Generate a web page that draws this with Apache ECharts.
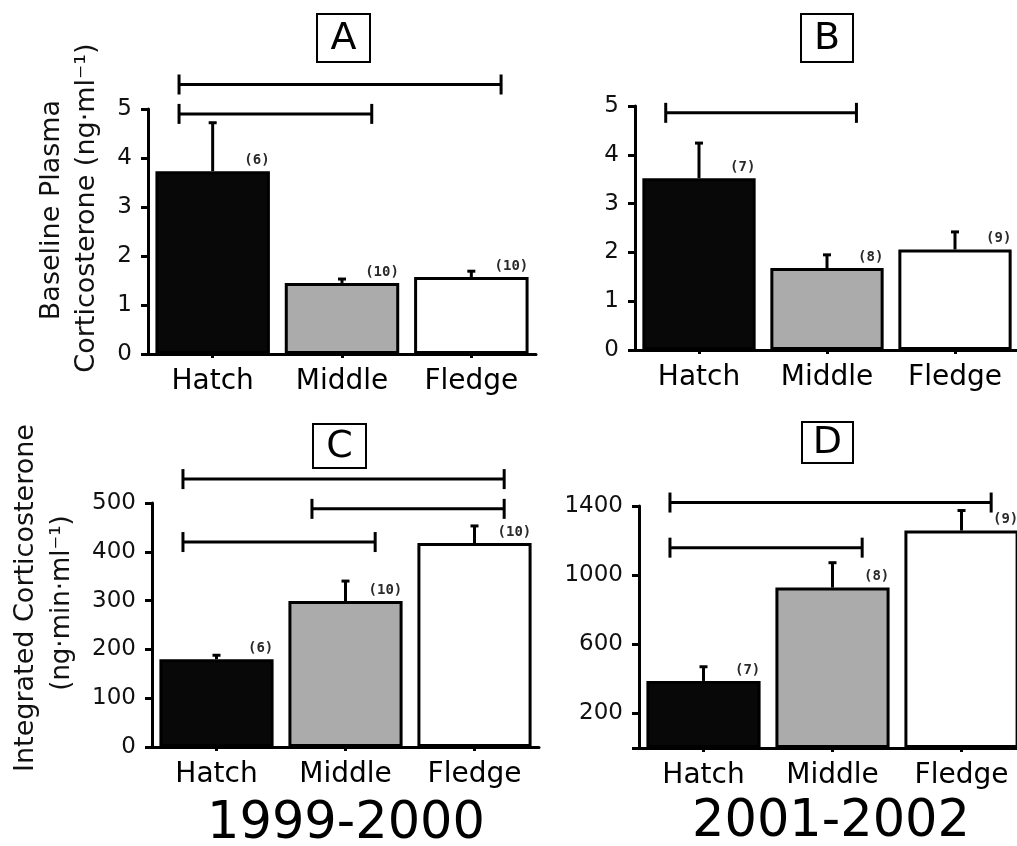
<!DOCTYPE html>
<html><head><meta charset="utf-8">
<script src="https://cdn.jsdelivr.net/npm/echarts@6/dist/echarts.min.js"></script>
<style>html,body{margin:0;padding:0;background:#fff}#c{width:1017px;height:846px}</style>
</head><body><div id="c"></div>
<script>
// ---- data ----
const categories = ['Hatch', 'Middle', 'Fledge'];

const meanA = [3.73, 1.45, 1.57];
const seA   = [0.99, 0.08, 0.12];
const nA    = [6, 10, 10];
const bracketsA = [[0, 2, 5.5], [0, 1, 4.9]];
const ticksA = [0, 1, 2, 3, 4, 5];

const meanB = [3.52, 1.68, 2.06];
const seB   = [0.72, 0.27, 0.36];
const nB    = [7, 8, 9];
const bracketsB = [[0, 1, 4.86]];
const ticksB = [0, 1, 2, 3, 4, 5];

const meanC = [180, 299, 418];
const seC   = [8, 41, 35];
const nC    = [6, 10, 10];
const bracketsC = [[0, 2, 549], [1, 2, 488], [0, 1, 420]];
const ticksC = [0, 100, 200, 300, 400, 500];

const meanD = [388, 928, 1258];
const seD   = [82, 144, 116];
const nD    = [7, 8, 9];
const bracketsD = [[0, 2, 1420], [0, 1, 1159]];
const ticksD = [200, 600, 1000, 1400];
const tickMarksD = [0, 200, 600, 1000, 1400];

const panelLetters = ['A', 'B', 'C', 'D'];
const yearLabels = ['1999-2000', '2001-2002'];
const yName1 = ['Baseline Plasma', 'Integrated Corticosterone'];
const yName2 = ['Corticosterone (ng·ml⁻¹)', '(ng·min·ml⁻¹)'];

// ---- styling / layout ----
const FONT = 'DejaVu Sans';
const barColors = ['#080808', '#ababab', '#ffffff'];
const panels = [
  {mean: meanA, se: seA, n: nA, br: bracketsA, ticks: ticksA, grid: {left: 148, top: 109, width: 388, height: 245}},
  {mean: meanB, se: seB, n: nB, br: bracketsB, ticks: ticksB, grid: {left: 635, top: 106, width: 384, height: 244}},
  {mean: meanC, se: seC, n: nC, br: bracketsC, ticks: ticksC, grid: {left: 152, top: 503, width: 387, height: 244}},
  {mean: meanD, se: seD, n: nD, br: bracketsD, ticks: ticksD, tickMarks: tickMarksD, grid: {left: 639, top: 506, width: 387, height: 242}}
];

function errItem(params, api) {
  const i = api.value(0), m = api.value(1), s = api.value(2), n = api.value(3);
  const p0 = api.coord([i, m]);
  const p1 = api.coord([i, m + s]);
  const band = api.size([1, 0])[0];
  const right = p0[0] + band * 0.44;
  return {type: 'group', children: [
    {type: 'line', shape: {x1: p0[0], y1: p0[1], x2: p1[0], y2: p1[1]}, style: {stroke: '#000', lineWidth: 3}},
    {type: 'line', shape: {x1: p1[0] - 4, y1: p1[1], x2: p1[0] + 4, y2: p1[1]}, style: {stroke: '#000', lineWidth: 3}},
    {type: 'text', x: right, y: p0[1] - 4, style: {text: '(' + n + ')', font: 'bold 14px "DejaVu Sans Mono"', fill: '#2a2a2a', align: 'right', verticalAlign: 'bottom'}}
  ]};
}
function brItem(params, api) {
  const a = api.coord([api.value(0), api.value(2)]);
  const b = api.coord([api.value(1), api.value(2)]);
  const band = api.size([1, 0])[0];
  const x1 = a[0] - band * 0.26, x2 = b[0] + band * 0.23, y = a[1];
  const st = {stroke: '#000', lineWidth: 3};
  return {type: 'group', children: [
    {type: 'line', shape: {x1: x1, y1: y, x2: x2, y2: y}, style: st},
    {type: 'line', shape: {x1: x1, y1: y - 10, x2: x1, y2: y + 10}, style: st},
    {type: 'line', shape: {x1: x2, y1: y - 10, x2: x2, y2: y + 10}, style: st}
  ]};
}

const grid = [], xAxis = [], yAxis = [], series = [];
panels.forEach((p, g) => {
  grid.push(Object.assign({outerBoundsMode: 'none', containLabel: false}, p.grid));
  xAxis.push({
    type: 'category', gridIndex: g, data: categories,
    axisLine: {show: true, lineStyle: {color: '#000', width: 3}},
    axisTick: {show: true, alignWithLabel: true, length: 4, lineStyle: {color: '#000', width: 3}},
    axisLabel: {color: '#000', fontFamily: FONT, fontSize: 28, margin: 14, interval: 0},
    splitLine: {show: false}
  });
  const t = p.ticks;
  const ya = {
    type: 'value', gridIndex: g,
    min: p.tickMarks ? p.tickMarks[0] : t[0], max: t[t.length - 1],
    interval: t[1] - t[0],
    axisLine: {show: true, lineStyle: {color: '#000', width: 3}},
    axisTick: {show: true, length: 7, lineStyle: {color: '#000', width: 3}},
    axisLabel: {color: '#111', fontFamily: FONT, fontSize: 23, margin: 16, formatter: v => String(v)},
    splitLine: {show: false}
  };
  if (p.tickMarks) {
    ya.interval = undefined;
    ya.axisTick.customValues = p.tickMarks;
    ya.axisLabel.customValues = t;
  }
  yAxis.push(ya);
  series.push({
    type: 'bar', xAxisIndex: g, yAxisIndex: g, barWidth: '88.5%', silent: true,
    data: p.mean.map((v, i) => ({value: v, itemStyle: {color: barColors[i], borderColor: '#000', borderWidth: 3}}))
  });
  series.push({
    type: 'custom', xAxisIndex: g, yAxisIndex: g, silent: true, clip: false, z: 5,
    encode: {x: 0, y: 1},
    data: p.mean.map((v, i) => [i, v, p.se[i], p.n[i]]),
    renderItem: errItem
  });
  series.push({
    type: 'custom', xAxisIndex: g, yAxisIndex: g, silent: true, clip: false, z: 5,
    encode: {x: [0, 1], y: 2},
    data: p.br,
    renderItem: brItem
  });
});

const boxes = [
  {x: 317, y: 14, w: 53, h: 48},
  {x: 801, y: 14, w: 52, h: 48},
  {x: 313, y: 424, w: 53, h: 44},
  {x: 802, y: 422, w: 51, h: 41}
];
const graphic = [];
boxes.forEach((b, i) => {
  graphic.push({type: 'rect', shape: {x: b.x, y: b.y, width: b.w, height: b.h}, style: {fill: '#fff', stroke: '#000', lineWidth: 2}});
  graphic.push({type: 'text', x: b.x + b.w / 2, y: b.y + b.h / 2 + 1, style: {text: panelLetters[i], font: '38px "' + FONT + '"', fill: '#000', align: 'center', verticalAlign: 'middle'}});
});
graphic.push({type: 'text', x: 346, y: 825, style: {text: yearLabels[0], font: '51px "' + FONT + '"', fill: '#000', align: 'center', verticalAlign: 'middle'}});
graphic.push({type: 'text', x: 831, y: 823, style: {text: yearLabels[1], font: '51px "' + FONT + '"', fill: '#000', align: 'center', verticalAlign: 'middle'}});
const yNamePos = [
  [[52, 210], [87, 208]],
  [[26, 598], [62, 603]]
];
[0, 1].forEach(k => {
  graphic.push({type: 'text', x: yNamePos[k][0][0], y: yNamePos[k][0][1], rotation: Math.PI / 2,
    style: {text: yName1[k], font: '27px "' + FONT + '"', fill: '#111', align: 'center', verticalAlign: 'middle'}});
  graphic.push({type: 'text', x: yNamePos[k][1][0], y: yNamePos[k][1][1], rotation: Math.PI / 2,
    style: {text: yName2[k], font: (k === 0 ? 27 : 26) + 'px "' + FONT + '"', fill: '#111', align: 'center', verticalAlign: 'middle'}});
});

const chart = echarts.init(document.getElementById('c'), null, {renderer: 'canvas'});
chart.setOption({
  backgroundColor: '#fff',
  animation: false,
  textStyle: {fontFamily: FONT},
  grid: grid, xAxis: xAxis, yAxis: yAxis, series: series, graphic: graphic
});
</script></body></html>
